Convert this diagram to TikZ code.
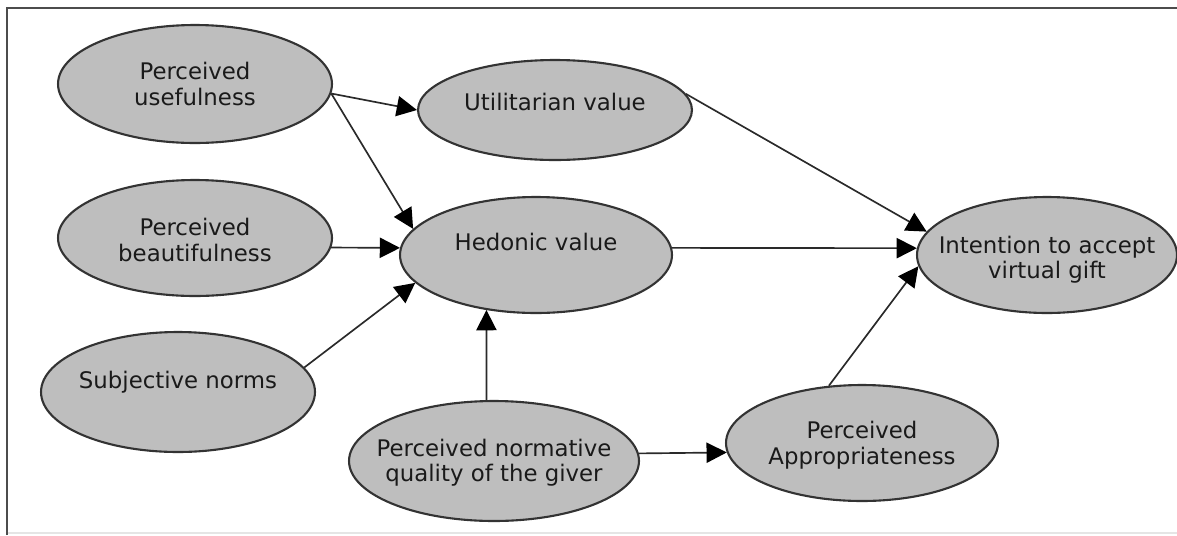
\documentclass[tikz,border=0pt]{standalone}
\usepackage{fontspec}
\setmainfont{DejaVu Sans}
\usetikzlibrary{shapes.geometric,arrows.meta}
\newcommand\ztxt[2]{\smash{\makebox[0pt]{\raisebox{#1}{\begin{tabular}{@{}c@{}}#2\end{tabular}}}}}
\definecolor{ellfill}{HTML}{BEBEBE}
\definecolor{ellline}{HTML}{333333}
\definecolor{txt}{HTML}{1A1A1A}
\definecolor{connline}{HTML}{2A2A2A}
\tikzset{
  ell/.style={ellipse, draw=ellline, fill=ellfill, line width=1.2pt, inner sep=0pt,
    text=txt, font=\fontsize{13}{14.5}\selectfont},
  conn/.style={draw=connline, line width=0.95pt,
    -{Triangle[length=11.5pt,width=11.5pt,color=black,fill=black]}},
  frame/.style={draw=black!70, line width=1.2pt}
}
\begin{document}
\begin{tikzpicture}[x=0.02cm,y=-0.02cm]
\useasboundingbox (0,0) rectangle (1177,535);
\coordinate (f0) at (7,535);
\coordinate (f1) at (7,8);
\coordinate (f2) at (1177,8);
\coordinate (f3) at (1177,533);
\coordinate (f4) at (7,533);
\draw[draw=black!10, line width=0.8pt] (f4) -- (f3);
\draw[frame] (f0) -- (f1) -- (f2);

\node[ell, minimum width=5.48cm, minimum height=2.36cm] (pu) at (195,84) {\ztxt{-5pt}{Perceived\\usefulness}};
\node[ell, minimum width=5.48cm, minimum height=2.32cm] (pb) at (195,238) {\ztxt{-6pt}{Perceived\\beautifulness}};
\node[ell, minimum width=5.48cm, minimum height=2.40cm] (sn) at (178,392) {\ztxt{1.8pt}{Subjective norms}};
\node[ell, minimum width=5.48cm, minimum height=2.00cm] (uv) at (555,110) {\ztxt{-0.5pt}{Utilitarian value}};
\node[ell, minimum width=5.44cm, minimum height=2.32cm] (hv) at (536,255) {\ztxt{2.4pt}{Hedonic value}};
\node[ell, minimum width=5.20cm, minimum height=2.32cm] (int) at (1047,255) {\ztxt{-6.5pt}{Intention to accept\\virtual gift}};
\node[ell, minimum width=5.80cm, minimum height=2.40cm] (norm) at (494,461) {\ztxt{-4.5pt}{Perceived normative\\quality of the giver}};
\node[ell, minimum width=5.44cm, minimum height=2.32cm] (appr) at (862,443) {\ztxt{-5pt}{Perceived\\Appropriateness}};

\draw[conn] (pu.-4) -- (uv.west);
\draw[conn] (pu.-4) -- (hv.168);
\draw[conn] (pb.-4) -- (hv.177);
\draw[conn] (sn.11) -- (hv.193);
\draw[conn] (uv.7) -- (int.169);
\draw[conn] (hv.3) -- (int.177);
\draw[conn] (appr.120) -- (int.185);
\draw[conn] (norm.97) -- (hv.228);
\draw[conn] (norm.3.3) -- (appr.184);
\end{tikzpicture}
\end{document}
